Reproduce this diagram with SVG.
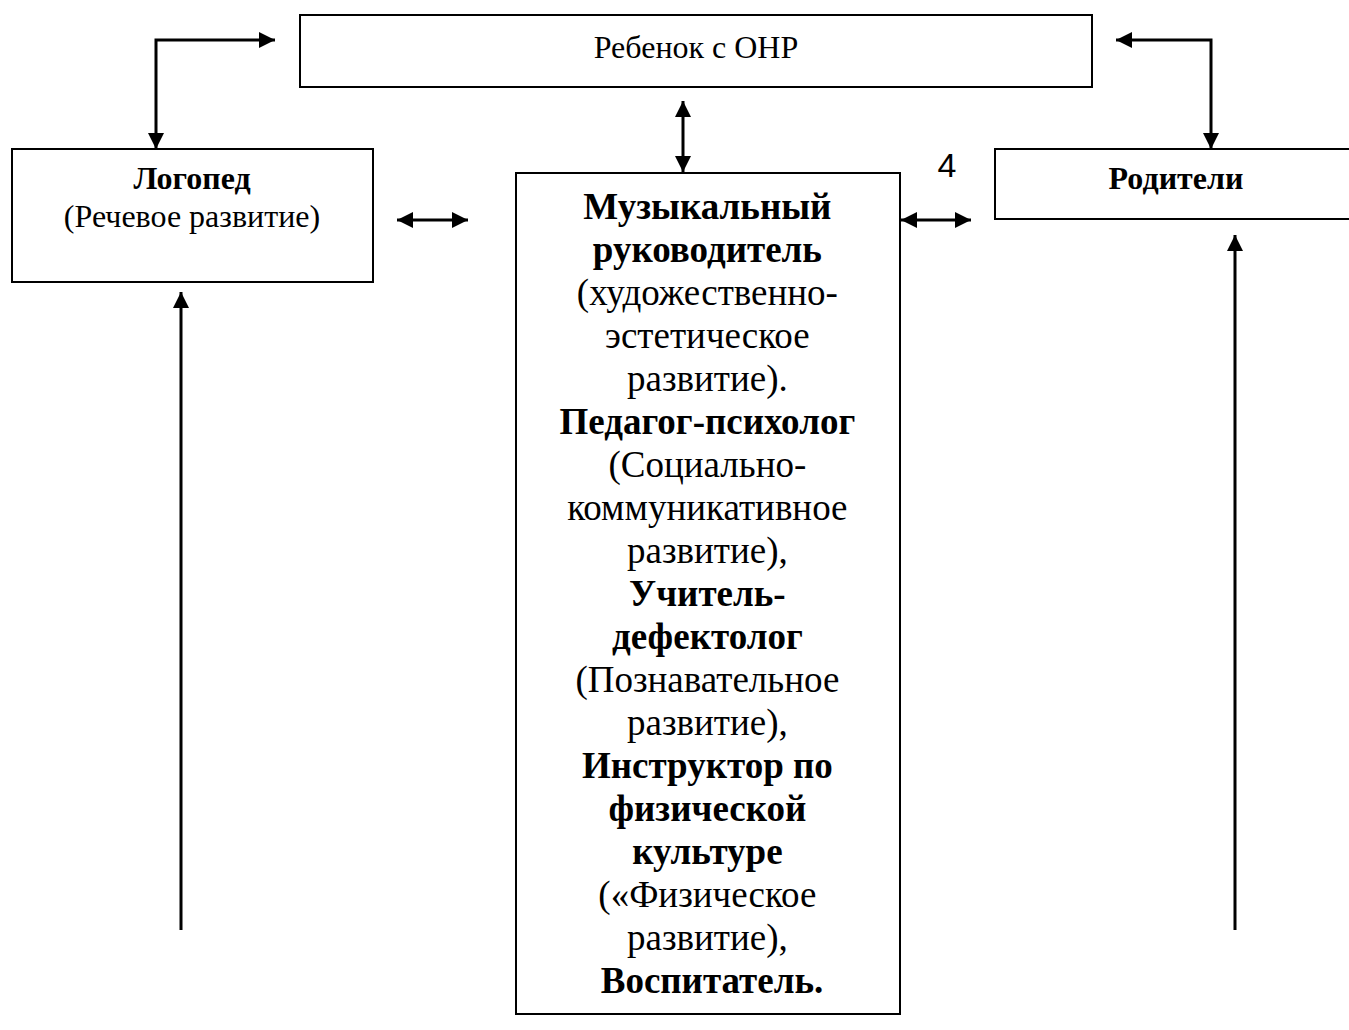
<svg xmlns="http://www.w3.org/2000/svg" width="1349" height="1030" viewBox="0 0 1349 1030">
<style>
.box{fill:#fff;stroke:#000;stroke-width:2}
.t{font-family:"Liberation Serif","Times New Roman",serif;fill:#000;text-anchor:middle}
.s{font-size:32px}
.c{font-size:37px}
.b{font-weight:bold}
.ln{stroke:#000;stroke-width:3;fill:none}
</style>
<defs>
<marker id="a" viewBox="0 0 10 10" refX="10" refY="5" markerWidth="16" markerHeight="16" markerUnits="userSpaceOnUse" orient="auto-start-reverse">
<path d="M0,0 L10,5 L0,10 Z" fill="#000"/>
</marker>
</defs>
<rect width="1349" height="1030" fill="#fff"/>
<g id="node-child">
<rect class="box" x="300" y="15" width="792" height="72"/>
<text class="t s" x="696" y="58">Ребенок с ОНР</text>
</g>
<g id="node-logoped">
<rect class="box" x="12" y="149" width="361" height="133"/>
<text class="t s b" x="192" y="189">Логопед</text>
<text class="t s" x="192" y="227">(Речевое развитие)</text>
</g>
<g id="node-parents">
<rect class="box" x="995" y="149" width="360" height="70"/>
<text class="t s b" x="1176" y="189">Родители</text>
</g>
<g id="node-specialists">
<rect class="box" x="516" y="173" width="384" height="841"/>
<text class="t c" x="712">
<tspan class="b" x="712" y="219">Музыкальный</tspan>
<tspan class="b" x="712" y="262">руководитель</tspan>
<tspan x="712" y="305">(художественно-</tspan>
<tspan x="712" y="348">эстетическое</tspan>
<tspan x="712" y="391">развитие).</tspan>
<tspan class="b" x="712" y="434">Педагог-психолог</tspan>
<tspan x="712" y="477">(Социально-</tspan>
<tspan x="712" y="520">коммуникативное</tspan>
<tspan x="712" y="563">развитие),</tspan>
<tspan class="b" x="712" y="606">Учитель-</tspan>
<tspan class="b" x="712" y="649">дефектолог</tspan>
<tspan x="712" y="692">(Познавательное</tspan>
<tspan x="712" y="735">развитие),</tspan>
<tspan class="b" x="712" y="778">Инструктор по</tspan>
<tspan class="b" x="712" y="821">физической</tspan>
<tspan class="b" x="712" y="864">культуре</tspan>
<tspan x="712" y="907">(«Физическое</tspan>
<tspan x="712" y="950">развитие),</tspan>
<tspan class="b" x="712" y="993">Воспитатель.</tspan>
</text>
</g>
<text class="t" x="947" y="177" style="font-family:'Liberation Sans',Arial,sans-serif;font-size:34px">4</text>
<g id="connectors">
<path class="ln" d="M275,40 H156 V149" marker-start="url(#a)" marker-end="url(#a)"/>
<path class="ln" d="M1116,40 H1211 V149" marker-start="url(#a)" marker-end="url(#a)"/>
<path class="ln" d="M683,101 V172" marker-start="url(#a)" marker-end="url(#a)"/>
<path class="ln" d="M397,220 H468" marker-start="url(#a)" marker-end="url(#a)"/>
<path class="ln" d="M901,220 H971" marker-start="url(#a)" marker-end="url(#a)"/>
<path class="ln" d="M181,930 V292" marker-end="url(#a)"/>
<path class="ln" d="M1235,930 V235" marker-end="url(#a)"/>
</g>
</svg>
